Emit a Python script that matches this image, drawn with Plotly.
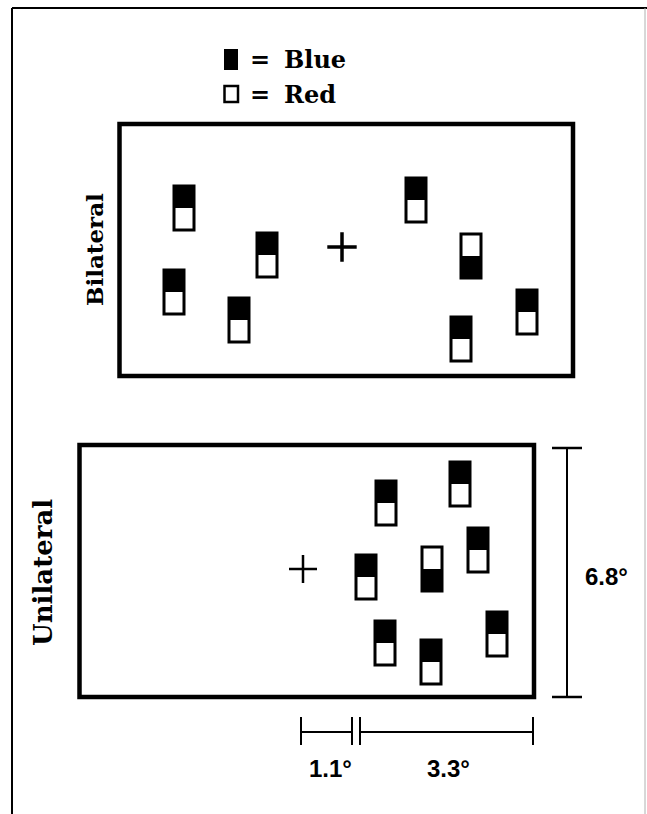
import plotly.graph_objects as go

# ---------------- data ----------------
legend_labels = ["Blue", "Red"]
condition_labels = ["Bilateral", "Unilateral"]

bilateral_x = [184, 267, 174, 239, 416, 471, 527, 461]
bilateral_y = [208, 255, 292, 320, 200, 256, 312, 339]
bilateral_top = ["Blue", "Blue", "Blue", "Blue", "Blue", "Red", "Blue", "Blue"]

unilateral_x = [386, 460, 478, 366, 432, 385, 431, 497]
unilateral_y = [503, 484, 550, 577, 569, 643, 662, 634]
unilateral_top = ["Blue", "Blue", "Blue", "Blue", "Red", "Blue", "Blue", "Blue"]

fixation_x = [342, 303]
fixation_y = [247, 569]

scale_labels = ["1.1°", "3.3°", "6.8°"]

# ---------------- figure ----------------
W, H = 647, 814
fig = go.Figure()
shapes = []
annotations = []

BLACK = "#000000"

# outer frame
shapes.append(dict(type="line", x0=12, y0=8, x1=12, y1=H, line=dict(color=BLACK, width=2)))
shapes.append(dict(type="line", x0=12, y0=8, x1=W, y1=8, line=dict(color=BLACK, width=2)))
shapes.append(dict(type="line", x0=645, y0=8, x1=645, y1=H, line=dict(color="#b0b0b0", width=1)))

# panels
panels = [(119.5, 124, 573, 376), (79.5, 445, 534, 697)]
for (x0, y0, x1, y1) in panels:
    shapes.append(dict(type="rect", x0=x0, y0=y0, x1=x1, y1=y1,
                       line=dict(color=BLACK, width=4.5), fillcolor="rgba(0,0,0,0)"))

SW, SH = 20, 44


def add_stimuli(xs, ys, tops):
    for cx, cy, top in zip(xs, ys, tops):
        shapes.append(dict(type="rect", x0=cx - SW / 2, x1=cx + SW / 2,
                           y0=cy - SH / 2, y1=cy + SH / 2,
                           line=dict(color=BLACK, width=3), fillcolor="white"))
        if top == "Blue":
            by0, by1 = cy - SH / 2, cy
        else:
            by0, by1 = cy, cy + SH / 2
        shapes.append(dict(type="rect", x0=cx - SW / 2, x1=cx + SW / 2,
                           y0=by0, y1=by1, line=dict(width=0), fillcolor=BLACK))


add_stimuli(bilateral_x, bilateral_y, bilateral_top)
add_stimuli(unilateral_x, unilateral_y, unilateral_top)

# fixation crosses
fig.add_trace(go.Scatter(x=[fixation_x[0]], y=[fixation_y[0]], mode="markers",
                         marker=dict(symbol="cross-thin", size=21, line=dict(color=BLACK, width=3.5)),
                         hoverinfo="skip", showlegend=False))
fig.add_trace(go.Scatter(x=[fixation_x[1]], y=[fixation_y[1]], mode="markers",
                         marker=dict(symbol="cross-thin", size=20, line=dict(color=BLACK, width=2.5)),
                         hoverinfo="skip", showlegend=False))

# legend
shapes.append(dict(type="rect", x0=224, x1=238, y0=49, y1=70, line=dict(width=0), fillcolor=BLACK))
shapes.append(dict(type="rect", x0=224.5, x1=238, y0=86, y1=102,
                   line=dict(color=BLACK, width=2.5), fillcolor="white"))
serif = dict(family="DejaVu Serif", size=24, color=BLACK, weight="bold")
for i, (lab, yy) in enumerate(zip(legend_labels, [59, 94])):
    annotations.append(dict(x=260, y=yy, text="=", showarrow=False, xanchor="center",
                            yanchor="middle", font=serif))
    annotations.append(dict(x=282, y=yy, text=lab, showarrow=False, xanchor="left",
                            yanchor="middle", font=serif))

# condition labels
annotations.append(dict(x=94, y=250, text=condition_labels[0], textangle=-90, showarrow=False,
                        xanchor="center", yanchor="middle", font=dict(serif, size=23)))
annotations.append(dict(x=43, y=573, text=condition_labels[1], textangle=-90, showarrow=False,
                        xanchor="center", yanchor="middle", font=dict(serif, size=26)))

# 6.8 deg bracket
ln = dict(color=BLACK, width=2)
shapes.append(dict(type="line", x0=567, x1=567, y0=448, y1=697, line=ln))
shapes.append(dict(type="line", x0=552, x1=582, y0=448, y1=448, line=dict(color=BLACK, width=2.5)))
shapes.append(dict(type="line", x0=552, x1=582, y0=697, y1=697, line=dict(color=BLACK, width=2.5)))

# horizontal scale bars
shapes.append(dict(type="line", x0=301, x1=352, y0=732, y1=732, line=ln))
shapes.append(dict(type="line", x0=360, x1=533, y0=732, y1=732, line=ln))
for tx in [301, 352, 360, 533]:
    shapes.append(dict(type="line", x0=tx, x1=tx, y0=717, y1=745, line=ln))

sans = dict(family="Liberation Sans", size=24, color=BLACK, weight="bold")
annotations.append(dict(x=330, y=768, text=scale_labels[0], showarrow=False,
                        xanchor="center", yanchor="middle", font=sans))
annotations.append(dict(x=448, y=768, text=scale_labels[1], showarrow=False,
                        xanchor="center", yanchor="middle", font=sans))
annotations.append(dict(x=583, y=576, text=scale_labels[2], showarrow=False,
                        xanchor="left", yanchor="middle", font=sans))

fig.update_layout(
    width=W, height=H,
    margin=dict(l=0, r=0, t=0, b=0),
    paper_bgcolor="white", plot_bgcolor="white",
    xaxis=dict(range=[0, W], visible=False, fixedrange=True),
    yaxis=dict(range=[H, 0], visible=False, fixedrange=True),
    shapes=shapes, annotations=annotations, showlegend=False,
)

fig.write_html("out.html", config={"displayModeBar": False},
               post_script="document.body.style.margin='0';document.body.style.overflow='hidden';")
